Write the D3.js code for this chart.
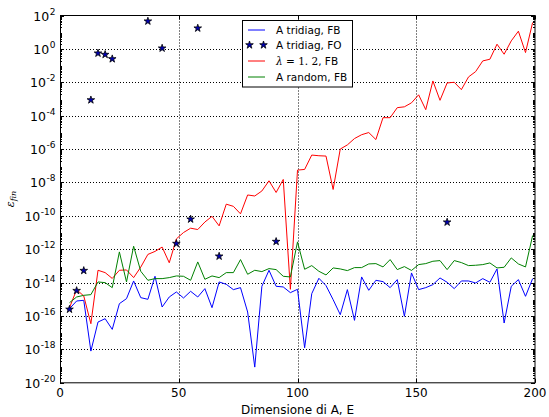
<!DOCTYPE html>
<html><head><meta charset="utf-8">
<script src="https://cdn.jsdelivr.net/npm/d3@7"></script>
<style>body{margin:0;background:#fff}svg{display:block}</style>
</head><body>
<svg id="c" width="549" height="417"></svg>
<script>
// x values (Dimensione di A, E)
const dims = [4,7,10,13,16,19,22,25,28,31,34,37,40,43,46,49,
  52,55,58,61,64,67,70,73,76,79,82,85,88,91,94,97,
  100,103,106,109,112,115,118,121,124,127,130,133,136,139,142,145,148,
  151,154,157,160,163,166,169,172,175,178,181,184,187,190,193,196,199];
// log10 of eps_fin for each series
const triFB = [-15.56,-15.1,-15.06,-18.1,-16.36,-16.16,-16.8,-15.26,-14.96,-13.9,-14.9,-15.0,-13.62,-15.46,-14.86,-14.56,
  -14.92,-14.52,-14.86,-14.36,-15.5,-13.96,-14.1,-14.42,-14.3,-15.76,-19.06,-14.22,-13.26,-14.22,-14.26,-14.6,
  -14.4,-17.9,-14.66,-13.74,-14.18,-15.02,-15.92,-14.42,-16.26,-13.66,-14.46,-13.86,-13.94,-14.3,-13.82,-16.02,-13.42,
  -14.42,-14.3,-14.12,-13.72,-13.98,-14.36,-13.9,-13.9,-14.02,-13.76,-13.98,-13.18,-16.42,-14.22,-13.82,-14.82,-13.76];
const lamFB = [-15.5,-14.42,-14.8,-16.46,-13.26,-13.4,-13.75,-13.26,-13.24,-13.7,-13.07,-12.31,-12.13,-11.87,-12.81,-11.38,
  -11.0,-10.74,-10.82,-10.37,-10.03,-10.6,-9.3,-9.43,-9.88,-8.75,-8.81,-8.51,-7.9,-8.6,-7.82,-14.4,
  -7.26,-7.22,-6.36,-6.4,-6.42,-8.42,-6.0,-5.75,-5.37,-5.14,-5.01,-5.43,-4.12,-4.12,-3.52,-3.47,-3.23,
  -2.75,-3.64,-1.92,-3.08,-2.04,-2.0,-2.44,-1.68,-1.36,-0.72,-0.62,0.28,-0.32,0.48,1.06,-0.22,1.58];
const randFB = [-15.2,-14.86,-14.76,-14.72,-13.96,-14.0,-14.3,-12.16,-13.96,-11.82,-13.32,-13.86,-13.76,-13.76,-13.7,-13.6,
  -13.62,-13.86,-12.76,-13.8,-13.6,-13.7,-13.4,-13.4,-12.62,-13.5,-13.26,-13.34,-13.16,-13.22,-13.62,-13.66,
  -11.56,-13.2,-12.98,-13.32,-13.54,-13.12,-13.18,-13.28,-13.1,-13.1,-12.88,-12.86,-13.06,-12.62,-13.22,-13.04,-13.27,
  -12.92,-12.86,-12.72,-12.68,-13.22,-12.68,-12.8,-12.98,-12.96,-12.92,-12.82,-13.12,-13.08,-12.52,-12.88,-13.06,-11.18];
// tridiag FO (stars)
const foDims = [4,7,10,13,16,19,22,37,43,49,55,58,67,91,163];
const foVals = [-15.6,-14.48,-13.28,-3.06,-0.26,-0.34,-0.6,1.66,0.04,-11.66,-10.2,1.24,-12.42,-11.54,-10.38];
const xTicks = [0,50,100,150,200];
const yTickExps = [2,0,-2,-4,-6,-8,-10,-12,-14,-16,-18,-20];
const legendLabels = ["A tridiag, FB","A tridiag, FO","λ = 1.2, FB","A random, FB"];

const svg = d3.select("#c");
const L = 60, R = 535, T = 15.5, B = 382.8;
const x = d3.scaleLinear().domain([0,200]).range([L,R]);
const y = d3.scaleLog().domain([1e-20,1e2]).range([B,T]);
const p10 = e => Math.pow(10, e);

// grid
const grid = svg.append("g").attr("stroke","#000").attr("stroke-width",1).attr("stroke-dasharray","1,2");
xTicks.filter(t => t>0 && t<200).forEach(t => {
  grid.append("line").attr("x1",Math.round(x(t))+0.5).attr("x2",Math.round(x(t))+0.5).attr("y1",T).attr("y2",B);
});
yTickExps.filter(e => e<2 && e>-20).forEach(e => {
  const yy = Math.round(y(p10(e)))+0.5;
  grid.append("line").attr("x1",L).attr("x2",R).attr("y1",yy).attr("y2",yy);
});

// ticks
const tk = svg.append("g").attr("stroke","#000").attr("stroke-width",1);
xTicks.forEach(t => {
  const xx = Math.round(x(t))+0.5;
  tk.append("line").attr("x1",xx).attr("x2",xx).attr("y1",B).attr("y2",B-4);
  tk.append("line").attr("x1",xx).attr("x2",xx).attr("y1",T).attr("y2",T+4);
});
yTickExps.forEach(e => {
  const yy = Math.round(y(p10(e)))+0.5;
  tk.append("line").attr("x1",L).attr("x2",L+4).attr("y1",yy).attr("y2",yy);
  tk.append("line").attr("x1",R).attr("x2",R-4).attr("y1",yy).attr("y2",yy);
});
for (let k=-20;k<2;k++) for (let m=2;m<10;m++) {
  const yy = Math.round(y(m*p10(k)))+0.5;
  tk.append("line").attr("x1",L).attr("x2",L+2).attr("y1",yy).attr("y2",yy);
  tk.append("line").attr("x1",R).attr("x2",R-2).attr("y1",yy).attr("y2",yy);
}

// lines
svg.append("clipPath").attr("id","clp").append("rect").attr("x",L).attr("y",T).attr("width",R-L).attr("height",B-T);
const line = d3.line().x((d,i)=>x(dims[i])).y(d=>y(p10(d)));
const plot = svg.append("g").attr("clip-path","url(#clp)");
[[triFB,"#0000ff"],[lamFB,"#ff0000"],[randFB,"#008000"]].forEach(([s,c]) => {
  plot.append("path").attr("d",line(s)).attr("fill","none").attr("stroke",c).attr("stroke-width",1);
});
const star = d3.symbol().type(d3.symbolStar).size(18);
foDims.forEach((d,i) => {
  svg.append("path").attr("d",star()).attr("transform",`translate(${x(d)},${y(p10(foVals[i]))})`)
    .attr("fill","#0000b0").attr("stroke","#000").attr("stroke-width",0.8);
});

// frame
svg.append("rect").attr("x",L+0.5).attr("y",T).attr("width",R-L-0.5).attr("height",B-T)
  .attr("fill","none").attr("stroke","#000").attr("stroke-width",1);

// tick labels
const font = "DejaVu Sans, sans-serif";
xTicks.forEach(t => {
  svg.append("text").attr("x",x(t)).attr("y",B+14).attr("text-anchor","middle")
    .attr("font-family",font).attr("font-size",12).attr("fill","#000").text(t);
});
yTickExps.forEach(e => {
  const yy = y(p10(e));
  const t = svg.append("text").attr("x",55.5).attr("y",yy+5).attr("text-anchor","end")
    .attr("font-family",font).attr("fill","#000");
  t.append("tspan").attr("font-size",12.5).text("10");
  t.append("tspan").attr("font-size",9).attr("dy",-6).attr("dx",0.5).text(e>=0 ? String(e) : "-"+Math.abs(e));
});
// axis labels
svg.append("text").attr("x",(L+R)/2).attr("y",414).attr("text-anchor","middle")
  .attr("font-family",font).attr("font-size",12).attr("fill","#000").text("Dimensione di A, E");
const yl = svg.append("text").attr("transform","translate(14,199) rotate(-90)").attr("text-anchor","middle")
  .attr("font-family","DejaVu Serif, serif").attr("font-style","italic").attr("font-size",11).attr("fill","#000");
yl.append("tspan").text("ε");
yl.append("tspan").attr("font-size",8).attr("dy",2).text("fin");

// legend
const lg = svg.append("g");
lg.append("rect").attr("x",242.5).attr("y",20.5).attr("width",110).attr("height",66.5)
  .attr("fill","#fff").attr("stroke","#000").attr("stroke-width",1);
const rows = [30,45,61,77];
const cols = ["#0000ff",null,"#ff0000","#008000"];
rows.forEach((ry,i) => {
  if (cols[i]) {
    lg.append("line").attr("x1",248).attr("x2",265).attr("y1",ry).attr("y2",ry).attr("stroke",cols[i]).attr("stroke-width",1);
  } else {
    [249.5,263.5].forEach(sx => lg.append("path").attr("d",star()).attr("transform",`translate(${sx},${ry})`)
      .attr("fill","#0000b0").attr("stroke","#000").attr("stroke-width",0.8));
  }
  const t = lg.append("text").attr("x",276).attr("y",ry+4).attr("font-size",10.5).attr("fill","#000");
  if (i===2) {
    t.attr("font-family","DejaVu Serif, serif");
    t.append("tspan").attr("font-style","italic").text("λ");
    t.append("tspan").text(" = 1. 2");
    t.append("tspan").attr("font-family",font).text(", FB");
  } else {
    t.attr("font-family",font).text(legendLabels[i]);
  }
});
</script>
</body></html>
